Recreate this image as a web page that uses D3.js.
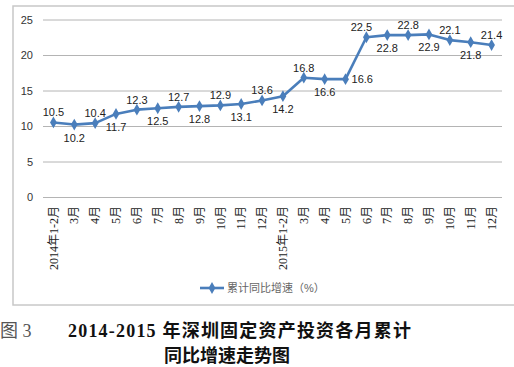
<!DOCTYPE html>
<html><head><meta charset="utf-8">
<script src="https://cdn.jsdelivr.net/npm/d3@7"></script>
<style>body{margin:0;background:#fff}svg{display:block}</style>
</head><body>
<script>
const categories = ["2014年1-2月","3月","4月","5月","6月","7月","8月","9月","10月","11月","12月",
  "2015年1-2月","3月","4月","5月","6月","7月","8月","9月","10月","11月","12月"];
const values = [10.5,10.2,10.4,11.7,12.3,12.5,12.7,12.8,12.9,13.1,13.6,14.2,16.8,16.6,16.6,22.5,22.8,22.8,22.9,22.1,21.8,21.4];
const labelPos = ["above","below","above","below","above","below","above","below","above","below","above","below",
  "above","below","right","aboveLeft","below","above","below","above","below","above"];
const yTicks = [0,5,10,15,20,25];
const seriesName = "累计同比增速（%）";
const captionNo = "图 3";
const captionLine1 = "2014-2015 年深圳固定资产投资各月累计";
const captionLine2 = "同比增速走势图";

const W = 514, H = 367;
const svg = d3.select("body").append("svg").attr("width", W).attr("height", H);
const color = "#4a7ebb";
const serifCJK = "'Liberation Serif','Noto Sans CJK SC',serif";
const sans = "'Liberation Sans','Noto Sans CJK SC',sans-serif";

// frame
svg.append("rect").attr("x", 13).attr("y", 6).attr("width", 520).attr("height", 299)
  .attr("fill", "none").attr("stroke", "#c8c8c8").attr("stroke-width", 1.5);

const x = d3.scaleBand().domain(d3.range(categories.length)).range([43, 502]);
const y = d3.scaleLinear().domain([0, 25]).range([197, 19.5]);

// grid + y labels
const yAxis = d3.axisLeft(y).tickValues(yTicks).tickSize(-(502 - 43)).tickPadding(10);
const ga = svg.append("g").attr("transform", "translate(43,0)").call(yAxis);
ga.select(".domain").remove();
ga.selectAll(".tick line").attr("stroke", "#b4b4b4").attr("stroke-width", 1);
ga.selectAll(".tick text").attr("font-family", sans).attr("font-size", 11).attr("fill", "#333");

// x labels (rotated)
const xAxis = d3.axisBottom(x).tickSize(0).tickFormat(i => categories[i]);
const gx = svg.append("g").attr("transform", "translate(0,197)").call(xAxis);
gx.select(".domain").remove();
gx.selectAll(".tick text")
  .attr("font-family", serifCJK).attr("font-size", 12).attr("fill", "#222")
  .attr("transform", "rotate(-90)")
  .attr("text-anchor", "end").attr("dy", "0.35em").attr("x", -9).attr("y", 0);

// line
const cx = i => x(i) + x.bandwidth() / 2;
svg.append("path").datum(values)
  .attr("d", d3.line().x((d, i) => cx(i)).y(d => y(d)))
  .attr("fill", "none").attr("stroke", color).attr("stroke-width", 2.6).attr("stroke-linejoin", "round");

const diamond = d3.symbol().type(d3.symbolDiamond).size(40);
svg.selectAll(".pt").data(values).enter().append("path")
  .attr("transform", (d, i) => `translate(${cx(i)},${y(d)})`)
  .attr("d", diamond).attr("fill", color);

// data labels
svg.selectAll(".lbl").data(values).enter().append("text")
  .attr("font-family", sans).attr("font-size", 11).attr("fill", "#222")
  .attr("x", (d, i) => labelPos[i] === "right" ? cx(i) + 6 : labelPos[i] === "aboveLeft" ? cx(i) - 5 : cx(i))
  .attr("y", (d, i) => labelPos[i] === "below" ? y(d) + 17 : labelPos[i] === "right" ? y(d) + 4 : y(d) - 6)
  .attr("text-anchor", (d, i) => labelPos[i] === "right" ? "start" : "middle")
  .text(d => d.toFixed(1));

// legend
const lg = svg.append("g");
lg.append("line").attr("x1", 200).attr("x2", 224).attr("y1", 288).attr("y2", 288)
  .attr("stroke", color).attr("stroke-width", 2.6);
lg.append("path").attr("transform", "translate(212,288)").attr("d", diamond).attr("fill", color);
lg.append("text").attr("x", 227).attr("y", 292).attr("font-family", sans).attr("font-size", 11)
  .attr("fill", "#666").text(seriesName);

// caption
svg.append("text").attr("x", 0).attr("y", 337).attr("font-family", serifCJK).attr("font-size", 18)
  .attr("fill", "#555").text(captionNo);
svg.append("text").attr("x", 68).attr("y", 337).attr("font-family", serifCJK).attr("font-size", 18)
  .attr("letter-spacing", 1.2)
  .attr("font-weight", "bold").attr("fill", "#111").text(captionLine1);
svg.append("text").attr("x", 227).attr("y", 362).attr("text-anchor", "middle").attr("font-family", serifCJK)
  .attr("font-size", 18).attr("font-weight", "bold").attr("fill", "#111").text(captionLine2);
</script>
</body></html>
